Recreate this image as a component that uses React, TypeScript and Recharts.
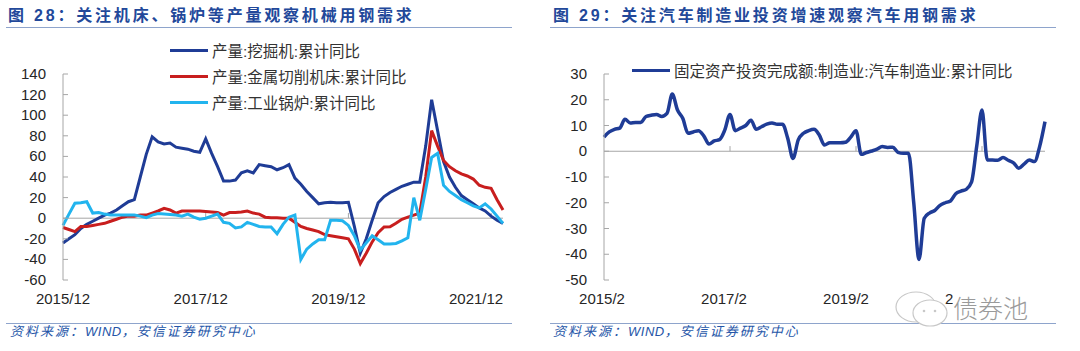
import React from "react";
import {Legend, Line, LineChart, ReferenceLine, XAxis, YAxis} from "recharts";

// 图28: 2015/12 起，月度累计同比 (%)
const excavatorYoY = [
    -24, -20, -16, -10, -6, -3, 0, 3, 5, 8, 12, 16, 18, 40, 62, 79, 74, 72, 73, 69,
    68, 67, 65, 64, 77, 63, 50, 36, 36, 37, 44, 46, 44, 52, 51, 50, 47, 49, 52, 39,
    33, 26, 20, 14, 15, 15.5, 15, 15, 15.5, -8, -34, -20, -2, 15, 21, 25, 28, 31, 33, 35,
    35, 70, 115, 85, 55, 40, 30, 22, 18, 14, 10, 7, 2, -2, -5,
];
const metalCuttingYoY = [
    -9, -11, -13, -8, -8, -7, -6, -5, -3, -1, 1, 2, 2, 3, 3, 5, 7, 9.5, 8, 5,
    7, 7, 7, 7, 6.5, 6, 5.5, 3, 5.5, 5.5, 6, 7, 5, 4, 1, 0.5, 0.5, 0, 0, -4,
    -8, -10, -11.5, -13, -16, -17, -18, -19, -20, -30, -44, -34, -23, -14, -8.5, -8.4, -5, -1, 1, 3,
    5, 40, 85, 70, 56, 50, 46, 43, 41, 38, 32, 30, 29, 18, 8,
];
const boilerYoY = [
    -7, 4, 14.5, 15, 16, 5, 5.5, 4, 3, 3, 3, 3, 3, 2, 0.5, 3, 4.5, 4, 3.5, 3,
    2, 4, 1, -1, 0, 2, 4, -4, -5, -9.5, -8.5, -4, -6, -8, -8.5, -8.5, -15, -6, 1, 3,
    -40, -30, -25, -21, -21, -2, -2, -2.5, -7, -17, -31, -24, -17, -21, -25, -25, -24.5, -22, -19, 20,
    -2, 28, 59, 63, 32, 26, 22, 18, 15, 12, 10, 14, 9, 2, -5,
];

// 图29: 2015/2 起，汽车制造业固定资产投资累计同比 (%)
const autoInvestYoY = [
    5.5, 7.5, 8.5, 9, 12.4, 11, 11.2, 11.2, 13.5, 14, 14.3, 13.5, 14.7, 22.2, 16, 12.8, 7, 7.5, 8, 6,
    2.8, 4, 4.5, 8.2, 14.3, 8, 9, 10, 12, 8.5, 9.5, 10.5, 11, 10.5, 10.5, 5, -2.8, 4.4, 7, 8,
    8.5, 6.3, 2.4, 3.3, 3.3, 3.3, 3.5, 5.5, 8, -1.2, -0.5, 0.1, 0.8, 1.8, 1.5, 1.6, -0.4, -0.8, -0.8, -20,
    -42, -26, -24, -23, -21, -20, -19.3, -16.5, -15.5, -14.8, -12, 2, 16, -3.4, -3.4, -3.5, -2.4, -3.5, -4.5, -6.6,
    -5, -3.4, -4, 2, 11.5,
];

const leftSeriesNames = ["产量:挖掘机:累计同比", "产量:金属切削机床:累计同比", "产量:工业锅炉:累计同比"];
const rightSeriesNames = ["固定资产投资完成额:制造业:汽车制造业:累计同比"];

const leftXTicks = [0, 24, 48, 72];
const leftXLabels = ["2015/12", "2017/12", "2019/12", "2021/12"];
const rightXTicks = [0, 24, 48, 72];
const rightXLabels = ["2015/2", "2017/2", "2019/2", "2021/2"];
const leftYTicks = [-60, -40, -20, 0, 20, 40, 60, 80, 100, 120, 140];
const rightYTicks = [-50, -40, -30, -20, -10, 0, 10, 20, 30];

const monthLabel = (year: number, month: number, i: number) => {
    const m = month - 1 + i;
    return `${year + Math.floor(m / 12)}/${(m % 12) + 1}`;
};

const leftData = excavatorYoY.map((v, i) => ({
    i,
    month: monthLabel(2015, 12, i),
    excavator: v,
    metalCutting: metalCuttingYoY[i],
    boiler: boilerYoY[i],
}));

const rightData = autoInvestYoY.map((v, i) => ({
    i,
    month: monthLabel(2015, 2, i),
    auto: v,
}));

const NAVY = "#1F3C96";
const RED = "#C81E1E";
const CYAN = "#22B4EE";
const AXIS = "#a6a6a6";
const TEXT = "#262626";
const TITLE = "#22489A";
const RULE = "#8ea4cc";
const FONT = '"Liberation Sans", Arial, "Noto Sans CJK SC", sans-serif';

const YTick = ({x, y, payload}: any) => (
    <g>
        <line x1={x} x2={x + 5} y1={y} y2={y} stroke={AXIS}/>
        <text x={x - 17} y={y} dy={5} textAnchor="end" fontSize={15} fill={TEXT} fontFamily={FONT}>
            {payload.value}
        </text>
    </g>
);

const XTick = ({x, y, payload, ticks, labels, nudge}: any) => {
    const k = ticks.indexOf(payload.value);
    return (
        <text x={x + nudge(k)} y={y} dy={24} textAnchor="middle" fontSize={15} fill={TEXT} fontFamily={FONT}>
            {labels[k]}
        </text>
    );
};

// legend keeps the series order, not recharts' default sort by name
const LegendRows = ({payload, order}: any) => {
    const items = [...(payload || [])].sort((a: any, b: any) => order.indexOf(a.value) - order.indexOf(b.value));
    return (
        <div>
            {items.map((p: any) => (
                <div key={p.value} style={{display: "flex", alignItems: "center", height: 26}}>
                    <span style={{display: "inline-block", width: 38, height: 3, background: p.color, marginRight: 4}}/>
                    <span style={{fontSize: 15.5, color: "#333", whiteSpace: "nowrap", fontFamily: FONT}}>{p.value}</span>
                </div>
            ))}
        </div>
    );
};

const Title = ({text, left}: { text: string; left: number }) => (
    <div style={{
        position: "absolute", left, top: 8, fontSize: 16, lineHeight: "16px", fontWeight: 700,
        color: TITLE, letterSpacing: 2.8, whiteSpace: "nowrap", fontFamily: FONT,
    }}>{text}</div>
);

const Rule = ({left, top}: { left: number; top: number }) => (
    <div style={{position: "absolute", left, top, width: 506, borderTop: `1.5px solid ${RULE}`}}/>
);

const Source = ({left}: { left: number }) => (
    <div style={{
        position: "absolute", left, top: 325, fontSize: 13, lineHeight: "14px", fontStyle: "italic",
        color: "#2556a8", letterSpacing: 2, whiteSpace: "nowrap", fontFamily: FONT,
    }}>资料来源：<span style={{letterSpacing: 0.5}}>WIND</span>，安信证券研究中心</div>
);

const MachineryChart = () => (
    <LineChart width={540} height={351} data={leftData} margin={{top: 74, right: 37, bottom: 41, left: 0}}>
        <XAxis dataKey="i" type="number" domain={[0, 74]} ticks={leftXTicks} height={30}
               axisLine={false} tickLine={false} tickSize={0} tickMargin={0} interval={0}
               tick={<XTick ticks={leftXTicks} labels={leftXLabels} nudge={(k: number) => -5 * k}/>}/>
        <YAxis type="number" domain={[-60, 140]} ticks={leftYTicks} width={63} interval={0}
               axisLine={{stroke: AXIS}} tickLine={false} tickSize={0} tickMargin={0} tick={<YTick/>}/>
        <ReferenceLine y={0} stroke={AXIS}/>
        {leftXTicks.slice(1).map(t => (
            <ReferenceLine key={t} segment={[{x: t, y: 0}, {x: t, y: 5}]} stroke={AXIS}/>
        ))}
        <Legend layout="vertical" align="center" verticalAlign="middle"
                content={<LegendRows order={leftSeriesNames}/>}
                wrapperStyle={{left: 170, top: 37, width: 260, height: 80}}/>
        <Line type="linear" dataKey="excavator" name={leftSeriesNames[0]} stroke={NAVY} strokeWidth={3}
              dot={false} isAnimationActive={false}/>
        <Line type="linear" dataKey="metalCutting" name={leftSeriesNames[1]} stroke={RED} strokeWidth={3}
              dot={false} isAnimationActive={false}/>
        <Line type="linear" dataKey="boiler" name={leftSeriesNames[2]} stroke={CYAN} strokeWidth={3}
              dot={false} isAnimationActive={false}/>
    </LineChart>
);

const AutoChart = () => (
    <LineChart width={540} height={351} data={rightData} margin={{top: 74, right: 35, bottom: 41, left: 0}}>
        <XAxis dataKey="i" type="number" domain={[0, 84]} ticks={rightXTicks} height={30}
               axisLine={false} tickLine={false} tickSize={0} tickMargin={0} interval={0}
               tick={<XTick ticks={rightXTicks} labels={rightXLabels} nudge={(k: number) => -2 - 4 * k}/>}/>
        <YAxis type="number" domain={[-50, 30]} ticks={rightYTicks} width={64} interval={0}
               axisLine={{stroke: AXIS}} tickLine={false} tickSize={0} tickMargin={0} tick={<YTick/>}/>
        <ReferenceLine y={0} stroke={AXIS}/>
        {rightXTicks.slice(1).map(t => (
            <ReferenceLine key={t} segment={[{x: t, y: 0}, {x: t, y: 2}]} stroke={AXIS}/>
        ))}
        <Legend layout="vertical" align="center" verticalAlign="middle"
                content={<LegendRows order={rightSeriesNames}/>}
                wrapperStyle={{left: 92, top: 57, width: 420, height: 26}}/>
        <Line type="monotone" dataKey="auto" name={rightSeriesNames[0]} stroke={NAVY}
              strokeWidth={3.5} dot={false} isAnimationActive={false}/>
    </LineChart>
);

const Watermark = () => (
    <div style={{position: "absolute", left: 890, top: 288, width: 150, height: 42}}>
        <svg width={62} height={42} style={{position: "absolute", left: 0, top: 0}}>
            <ellipse cx={26} cy={19} rx={20} ry={15} fill="#fff" stroke="#c8c8c8" strokeWidth={1.2}/>
            <ellipse cx={40} cy={25} rx={17} ry={13} fill="#fff" stroke="#c8c8c8" strokeWidth={1.2}/>
            <circle cx={34} cy={23} r={1.3} fill="#c8c8c8"/>
            <circle cx={45} cy={23} r={1.3} fill="#c8c8c8"/>
        </svg>
        <div style={{
            position: "absolute", left: 63, top: 4, fontSize: 25, lineHeight: "30px", color: "#9a9a9a",
            fontWeight: 300, background: "#fff", fontFamily: '"Noto Sans CJK SC", sans-serif',
        }}>债券池</div>
    </div>
);

export default function App() {
    return (
        <div style={{position: "absolute", left: 0, top: 0, width: 1080, height: 351, background: "#fff", overflow: "hidden"}}>
            <div style={{position: "absolute", left: 0, top: 0, width: 540, height: 351}}>
                <Title text="图 28：关注机床、锅炉等产量观察机械用钢需求" left={8}/>
                <Rule left={6} top={27}/>
                <div style={{position: "absolute", left: 0, top: 0}}><MachineryChart/></div>
                <Rule left={6} top={323}/>
                <Source left={10}/>
            </div>
            <div style={{position: "absolute", left: 540, top: 0, width: 540, height: 351}}>
                <Title text="图 29：关注汽车制造业投资增速观察汽车用钢需求" left={13}/>
                <Rule left={10} top={27}/>
                <div style={{position: "absolute", left: 0, top: 0}}><AutoChart/></div>
                <Rule left={10} top={323}/>
                <Source left={13}/>
            </div>
            <Watermark/>
        </div>
    );
}
